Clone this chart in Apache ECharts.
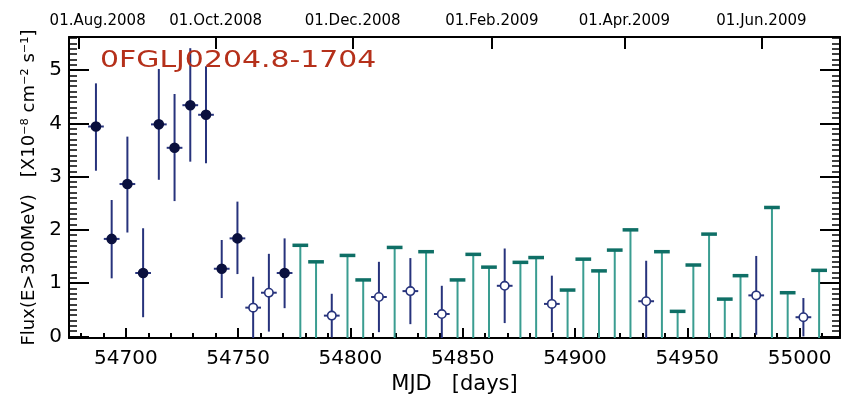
<!DOCTYPE html>
<html><head><meta charset="utf-8">
<script src="https://cdn.jsdelivr.net/npm/echarts@6/dist/echarts.min.js"></script>
<style>html,body{margin:0;padding:0;background:#fff}#c{width:851px;height:406px}</style>
</head><body><div id="c"></div>
<script>
// ---- data ----
const detMjd  = [54686.7, 54693.7, 54700.7, 54707.7, 54714.7, 54721.7, 54728.7, 54735.7, 54742.7, 54749.7, 54770.7];
const detFlux = [3.94, 1.83, 2.86, 1.19, 3.98, 3.54, 4.34, 4.16, 1.27, 1.84, 1.19];
const detLo   = [3.11, 1.09, 1.95, 0.36, 2.94, 2.54, 3.28, 3.25, 0.72, 1.17, 0.53];
const detHi   = [4.75, 2.56, 3.75, 2.03, 5.02, 4.55, 5.41, 5.07, 1.81, 2.53, 1.84];

const openMjd  = [54756.7, 54763.7, 54791.7, 54812.7, 54826.7, 54840.7, 54868.7, 54889.7, 54931.7, 54980.7, 55001.7];
const openFlux = [0.54, 0.82, 0.39, 0.74, 0.85, 0.42, 0.95, 0.61, 0.66, 0.77, 0.36];
const openLo   = [-0.04, 0.09, -0.02, 0.08, 0.23, -0.11, 0.25, 0.08, -0.10, 0.03, 0.00];
const openHi   = [1.12, 1.55, 0.80, 1.40, 1.47, 0.95, 1.65, 1.14, 1.42, 1.51, 0.72];

const ulMjd   = [54777.7, 54784.7, 54798.7, 54805.7, 54819.7, 54833.7, 54847.7, 54854.7, 54861.7, 54875.7, 54882.7, 54896.7, 54903.7, 54910.7, 54917.7, 54924.7, 54938.7, 54945.7, 54952.7, 54959.7, 54966.7, 54973.7, 54987.7, 54994.7, 55008.7];
const ulValue = [1.71, 1.40, 1.52, 1.06, 1.67, 1.59, 1.06, 1.54, 1.30, 1.39, 1.48, 0.87, 1.45, 1.23, 1.62, 2.00, 1.59, 0.47, 1.34, 1.92, 0.70, 1.14, 2.42, 0.82, 1.24];

const xMajorTicks = [54700, 54750, 54800, 54850, 54900, 54950, 55000];
const xMinorTicks = [54680, 54690, 54710, 54720, 54730, 54740, 54760, 54770, 54780, 54790, 54810, 54820, 54830, 54840, 54860, 54870, 54880, 54890, 54910, 54920, 54930, 54940, 54960, 54970, 54980, 54990, 55010];
const yMajorTicks = [0, 1, 2, 3, 4, 5];
const dateMjd    = [54679, 54740, 54801, 54863, 54922, 54983];
const dateLabels = ['01.Aug.2008', '01.Oct.2008', '01.Dec.2008', '01.Feb.2009', '01.Apr.2009', '01.Jun.2009'];
const titleText  = '0FGLJ0204.8-1704';
const halfBin = 3.5;

const yMinorTicks = [];
for (let i = 0; i <= 56; i++) { if (i % 10 !== 0) yMinorTicks.push(+(i / 10).toFixed(1)); }

const X_MIN = 54674.7, X_MAX = 55018.0, Y_MIN = -0.03, Y_MAX = 5.62;
const FONT = 'DejaVu Sans';
const ERR = '#27337c', DOT = '#0a103e';
const TEAL = '#3a9d91', TEAL_CAP = '#0f6f66';

const chart = echarts.init(document.getElementById('c'), null, {renderer: 'canvas'});

function baseX(extra) {
  return Object.assign({
    type: 'value', min: X_MIN, max: X_MAX, splitLine: {show: false},
    axisLine: {show: false, onZero: false},
    axisTick: {show: false}, axisLabel: {show: false}
  }, extra);
}
function baseY(extra) {
  return Object.assign({
    type: 'value', min: Y_MIN, max: Y_MAX, splitLine: {show: false},
    axisLine: {show: false, onZero: false},
    axisTick: {show: false}, axisLabel: {show: false}
  }, extra);
}
const blk = {color: '#000', width: 2};

function pointRender(filled) {
  return function (params, api) {
    const x = api.value(0), y = api.value(1), lo = api.value(2), hi = api.value(3);
    const pc = api.coord([x, y]), pl = api.coord([x, lo]), ph = api.coord([x, hi]);
    const pa = api.coord([x - halfBin, y]), pb = api.coord([x + halfBin, y]);
    return {type: 'group', children: [
      {type: 'line', shape: {x1: pl[0], y1: pl[1], x2: ph[0], y2: ph[1]}, style: {stroke: ERR, lineWidth: 2}},
      {type: 'line', shape: {x1: pa[0], y1: pa[1], x2: pb[0], y2: pb[1]}, style: {stroke: ERR, lineWidth: 2}},
      {type: 'circle', shape: {cx: pc[0], cy: pc[1], r: filled ? 4.5 : 4.2},
       style: {fill: filled ? DOT : '#fff', stroke: filled ? DOT : ERR, lineWidth: 1.6}}
    ]};
  };
}

const option = {
  animation: false,
  backgroundColor: '#fff',
  grid: {left: 69, right: 11, top: 37, bottom: 68, containLabel: false},
  xAxis: [
    baseX({position: 'bottom',
      axisLine: {show: true, onZero: false, lineStyle: blk},
      axisTick: {show: true, inside: true, length: 10, customValues: xMajorTicks, lineStyle: blk},
      axisLabel: {show: true, customValues: xMajorTicks, fontSize: 20, color: '#000', fontFamily: FONT, margin: 11,
        formatter: function (v) { return String(v); }},
      name: 'MJD   [days]', nameLocation: 'middle', nameGap: 35,
      nameTextStyle: {fontSize: 21, color: '#000', fontFamily: FONT}}),
    baseX({position: 'bottom',
      axisTick: {show: true, inside: true, length: 5, customValues: xMinorTicks, lineStyle: blk}}),
    baseX({position: 'top',
      axisLine: {show: true, onZero: false, lineStyle: blk},
      axisTick: {show: true, inside: true, length: 12, customValues: dateMjd, lineStyle: blk},
      axisLabel: {show: true, customValues: dateMjd, fontSize: 15, color: '#000', fontFamily: FONT, margin: 8,
        formatter: function (v) {
          const i = dateMjd.indexOf(v);
          return i === 0 ? '{f|' + dateLabels[i] + '}' : dateLabels[i];
        },
        rich: {f: {fontSize: 15, color: '#000', fontFamily: FONT, padding: [0, 0, 0, 38]}}}})
  ],
  yAxis: [
    baseY({position: 'left',
      axisLine: {show: true, onZero: false, lineStyle: blk},
      axisTick: {show: true, inside: true, length: 20, customValues: yMajorTicks, lineStyle: blk},
      axisLabel: {show: true, customValues: yMajorTicks, fontSize: 20, color: '#000', fontFamily: FONT, margin: 7},
      name: 'Flux(E>300MeV)   [X10⁻⁸ cm⁻² s⁻¹]', nameLocation: 'middle', nameGap: 31, nameRotate: 90,
      nameTextStyle: {fontSize: 18, color: '#000', fontFamily: FONT}}),
    baseY({position: 'left',
      axisTick: {show: true, inside: true, length: 8, customValues: yMinorTicks, lineStyle: {color: '#000', width: 1.5}}}),
    baseY({position: 'right',
      axisLine: {show: true, onZero: false, lineStyle: blk},
      axisTick: {show: true, inside: true, length: 20, customValues: yMajorTicks, lineStyle: blk}}),
    baseY({position: 'right',
      axisTick: {show: true, inside: true, length: 8, customValues: yMinorTicks, lineStyle: {color: '#000', width: 1.5}}})
  ],
  graphic: [{
    type: 'text', x: 100, y: 61, scaleX: 1.3, z: 100,
    style: {text: titleText, fontSize: 23, fontFamily: FONT, fill: '#b5301a', align: 'left', verticalAlign: 'middle'}
  }],
  series: [
    {type: 'custom', name: 'upper limits', xAxisIndex: 0, yAxisIndex: 0, clip: true,
     data: ulMjd.map((m, i) => [m, ulValue[i]]),
     encode: {x: 0, y: 1},
     renderItem: function (params, api) {
       const x = api.value(0), v = api.value(1);
       const p0 = api.coord([x, Y_MIN]), p1 = api.coord([x, v]);
       const pa = api.coord([x - halfBin, v]), pb = api.coord([x + halfBin, v]);
       return {type: 'group', children: [
         {type: 'line', shape: {x1: p0[0], y1: p0[1], x2: p1[0], y2: p1[1]}, style: {stroke: TEAL, lineWidth: 2}},
         {type: 'line', shape: {x1: pa[0], y1: pa[1], x2: pb[0], y2: pb[1]}, style: {stroke: TEAL_CAP, lineWidth: 3.5}}
       ]};
     }},
    {type: 'custom', name: 'low TS', xAxisIndex: 0, yAxisIndex: 0, clip: true,
     data: openMjd.map((m, i) => [m, openFlux[i], openLo[i], openHi[i]]),
     encode: {x: 0, y: 1}, renderItem: pointRender(false)},
    {type: 'custom', name: 'detections', xAxisIndex: 0, yAxisIndex: 0, clip: true,
     data: detMjd.map((m, i) => [m, detFlux[i], detLo[i], detHi[i]]),
     encode: {x: 0, y: 1}, renderItem: pointRender(true)}
  ]
};
chart.setOption(option);
</script>
</body></html>
